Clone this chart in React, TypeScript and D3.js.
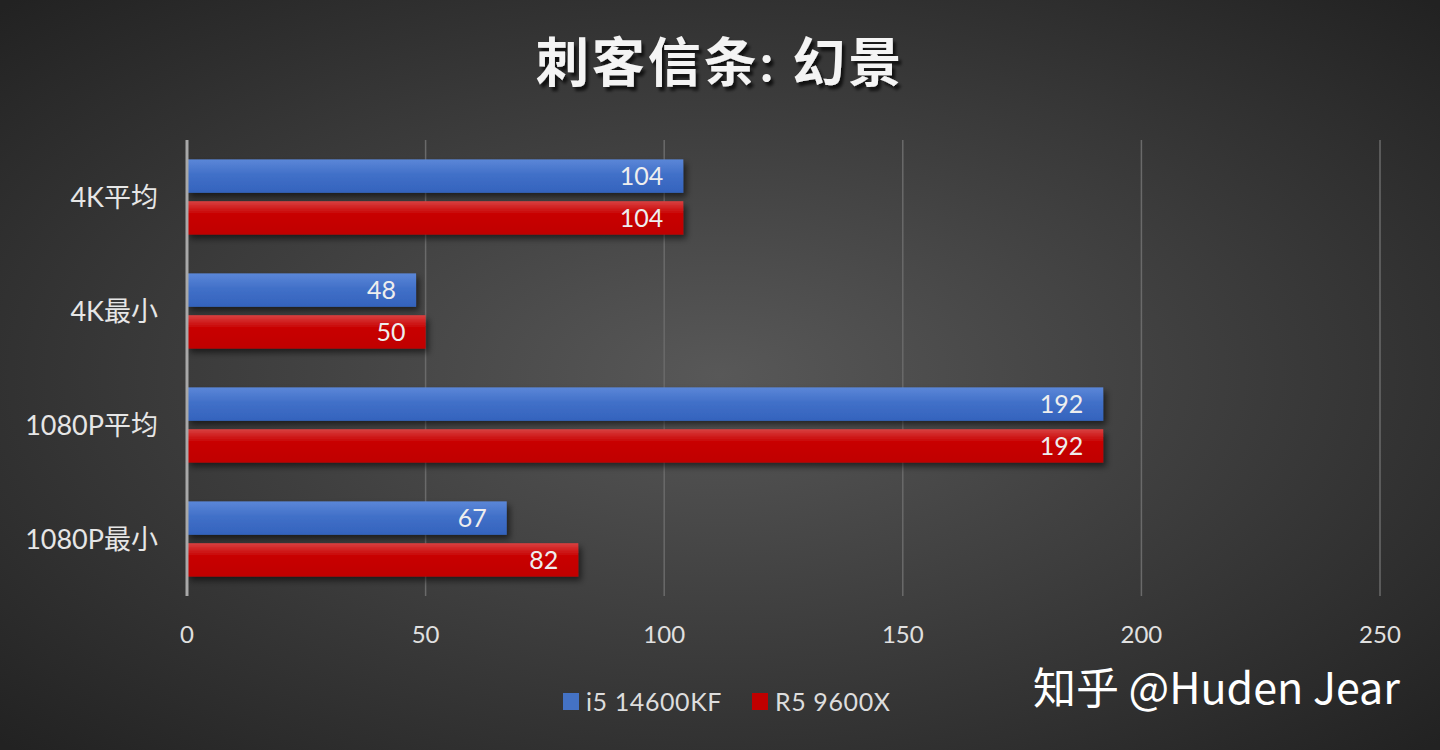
import { useEffect, useRef } from "react";
import * as d3 from "d3";

const categories = ["4K平均", "4K最小", "1080P平均", "1080P最小"];
const seriesNames = ["i5 14600KF", "R5 9600X"];
const intelValues = [104, 48, 192, 67];
const amdValues = [104, 50, 192, 82];
const xTicks = [0, 50, 100, 150, 200, 250];

const W = 1440;
const H = 750;
const FONT = "Lato, 'Noto Sans CJK SC', sans-serif";

export default function App() {
  const svgRef = useRef<SVGSVGElement>(null);

  useEffect(() => {
    if (!svgRef.current) return;
    const svg = d3.select(svgRef.current);
    svg.selectAll("*").remove();

    const defs = svg.append("defs");
    const bg = defs
      .append("radialGradient")
      .attr("id", "bg")
      .attr("cx", "50%")
      .attr("cy", "50%")
      .attr("r", "70%");
    bg.append("stop").attr("offset", "0%").attr("stop-color", "#585858");
    bg.append("stop").attr("offset", "100%").attr("stop-color", "#222222");

    const blueGrad = defs.append("linearGradient").attr("id", "blue").attr("x2", 0).attr("y2", 1);
    blueGrad.append("stop").attr("offset", "0%").attr("stop-color", "#5b87d8");
    blueGrad.append("stop").attr("offset", "45%").attr("stop-color", "#4170c8");
    blueGrad.append("stop").attr("offset", "100%").attr("stop-color", "#3463bd");
    const redGrad = defs.append("linearGradient").attr("id", "red").attr("x2", 0).attr("y2", 1);
    redGrad.append("stop").attr("offset", "0%").attr("stop-color", "#d84040");
    redGrad.append("stop").attr("offset", "40%").attr("stop-color", "#c80000");
    redGrad.append("stop").attr("offset", "100%").attr("stop-color", "#c00000");

    const shadow = defs.append("filter").attr("id", "shadow").attr("x", "-5%").attr("y", "-20%").attr("width", "115%").attr("height", "160%");
    shadow
      .append("feDropShadow")
      .attr("dx", 3)
      .attr("dy", 4)
      .attr("stdDeviation", 3)
      .attr("flood-color", "#000")
      .attr("flood-opacity", 0.55);

    const tShadow = defs.append("filter").attr("id", "tshadow").attr("x", "-10%").attr("y", "-10%").attr("width", "130%").attr("height", "130%");
    tShadow
      .append("feDropShadow")
      .attr("dx", 3)
      .attr("dy", 4)
      .attr("stdDeviation", 1.5)
      .attr("flood-color", "#000")
      .attr("flood-opacity", 0.7);

    svg.append("rect").attr("width", W).attr("height", H).attr("fill", "url(#bg)");

    const left = 187;
    const right = 1380;
    const top = 140;
    const bottom = 596;

    const x = d3.scaleLinear().domain([0, 250]).range([left, right]);
    const y = d3.scaleBand().domain(categories).range([top, bottom]).paddingInner(0.34).paddingOuter(0.17);
    const inner = d3.scaleBand().domain(seriesNames).range([0, y.bandwidth()]).paddingInner(0.2);

    // gridlines
    svg
      .append("g")
      .selectAll("line")
      .data(xTicks.slice(1))
      .join("line")
      .attr("x1", (d) => x(d))
      .attr("x2", (d) => x(d))
      .attr("y1", top)
      .attr("y2", bottom)
      .attr("stroke", "#6a6a6a")
      .attr("stroke-width", 1.5);

    const series = [
      { name: seriesNames[0], values: intelValues, fill: "url(#blue)" },
      { name: seriesNames[1], values: amdValues, fill: "url(#red)" },
    ];

    series.forEach((s) => {
      const g = svg.append("g");
      g.selectAll("rect")
        .data(s.values)
        .join("rect")
        .attr("x", x(0))
        .attr("y", (_, i) => (y(categories[i]) ?? 0) + (inner(s.name) ?? 0))
        .attr("width", (d) => x(d) - x(0))
        .attr("height", inner.bandwidth())
        .attr("fill", s.fill)
        .attr("filter", "url(#shadow)");
      g.selectAll("text")
        .data(s.values)
        .join("text")
        .attr("x", (d) => x(d) - 20)
        .attr("y", (_, i) => (y(categories[i]) ?? 0) + (inner(s.name) ?? 0) + inner.bandwidth() / 2)
        .attr("dy", "0.36em")
        .attr("text-anchor", "end")
        .attr("font-family", FONT)
        .attr("font-size", 25)
        .attr("fill", "#eeeeee")
        .text((d) => d);
    });

    // y axis line
    svg
      .append("line")
      .attr("x1", x(0))
      .attr("x2", x(0))
      .attr("y1", top)
      .attr("y2", bottom)
      .attr("stroke", "#a8a8a8")
      .attr("stroke-width", 3);

    // category labels
    svg
      .append("g")
      .selectAll("text")
      .data(categories)
      .join("text")
      .attr("x", 158)
      .attr("y", (d) => (y(d) ?? 0) + y.bandwidth() / 2)
      .attr("dy", "0.36em")
      .attr("text-anchor", "end")
      .attr("font-family", FONT)
      .attr("font-size", 27)
      .attr("fill", "#e6e6e6")
      .text((d) => d);

    // x tick labels
    svg
      .append("g")
      .selectAll("text")
      .data(xTicks)
      .join("text")
      .attr("x", (d) => x(d))
      .attr("y", 634)
      .attr("dy", "0.36em")
      .attr("text-anchor", "middle")
      .attr("font-family", FONT)
      .attr("font-size", 24)
      .attr("fill", "#e0e0e0")
      .text((d) => d);

    // title
    svg
      .append("text")
      .attr("x", W / 2)
      .attr("y", 63)
      .attr("dy", "0.36em")
      .attr("text-anchor", "middle")
      .attr("font-family", FONT)
      .attr("font-size", 53)
      .attr("font-weight", 700)
      .attr("letter-spacing", 3)
      .attr("fill", "#f4f4f4")
      .attr("filter", "url(#tshadow)")
      .text("刺客信条: 幻景");

    // legend
    const legend = svg.append("g");
    const legendItems = [
      { name: seriesNames[0], color: "#4472c4", x: 563 },
      { name: seriesNames[1], color: "#c00000", x: 752 },
    ];
    legendItems.forEach((item) => {
      legend
        .append("rect")
        .attr("x", item.x)
        .attr("y", 693)
        .attr("width", 16)
        .attr("height", 17)
        .attr("fill", item.color);
      legend
        .append("text")
        .attr("x", item.x + 23)
        .attr("y", 702)
        .attr("dy", "0.36em")
        .attr("font-family", FONT)
        .attr("font-size", 25)
        .attr("letter-spacing", 0.6)
        .attr("fill", "#dddddd")
        .text(item.name);
    });

    // watermark
    svg
      .append("text")
      .attr("x", 1400)
      .attr("y", 689)
      .attr("dy", "0.36em")
      .attr("text-anchor", "end")
      .attr("font-family", "'Noto Sans CJK SC', 'Noto Sans', sans-serif")
      .attr("font-size", 43)
      .attr("fill", "#ffffff")
      .text("知乎 @Huden Jear");
  }, []);

  return (
    <svg
      ref={svgRef}
      width={W}
      height={H}
      viewBox={`0 0 ${W} ${H}`}
      style={{ display: "block", position: "absolute", left: 0, top: 0 }}
    />
  );
}
